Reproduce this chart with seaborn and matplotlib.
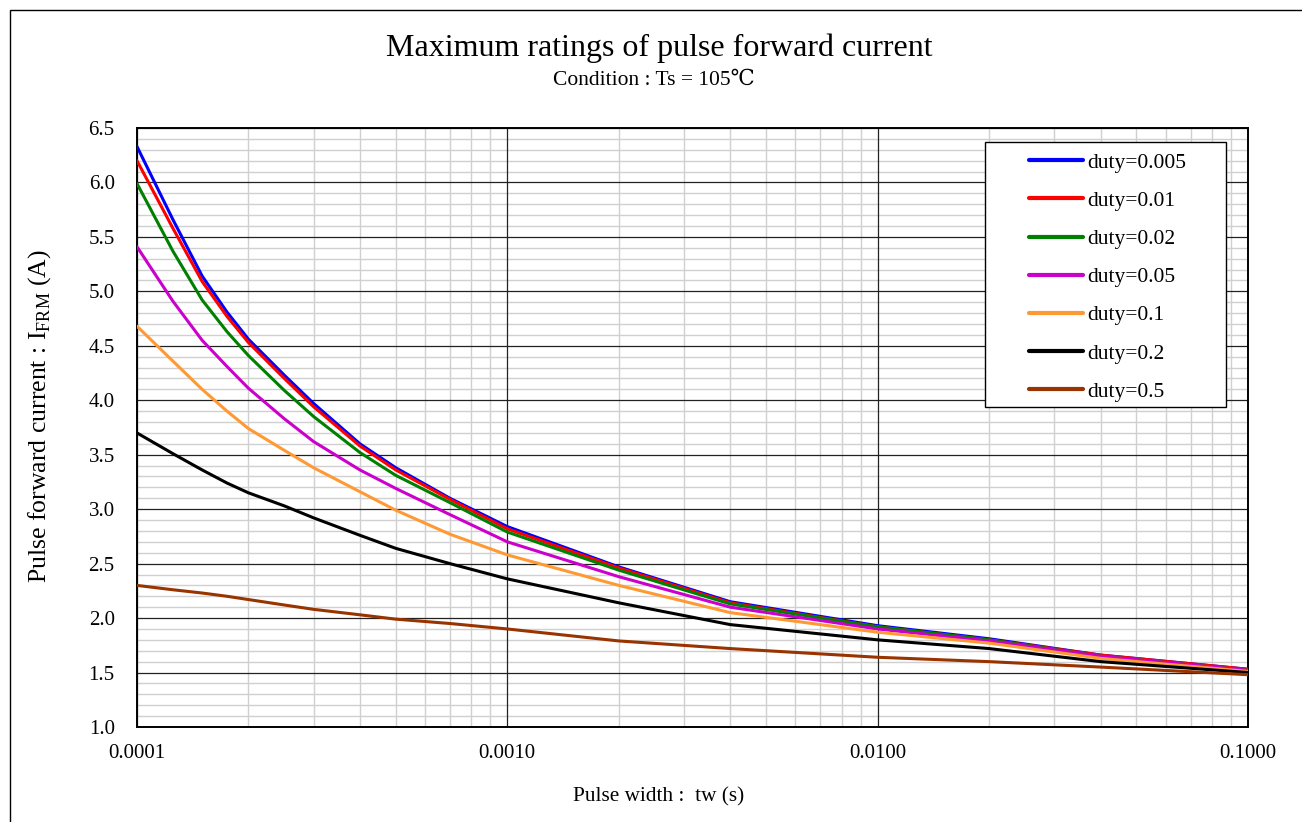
import numpy as np
import pandas as pd
import matplotlib
matplotlib.use("Agg")
import matplotlib.pyplot as plt
import matplotlib.ticker as mticker
from matplotlib.patches import Rectangle
import seaborn as sns

# pulse width (s)
tw = [0.0001, 0.000125, 0.00015, 0.000175, 0.0002, 0.00025, 0.0003, 0.0004, 0.0005,
      0.0007, 0.001, 0.002, 0.004, 0.01, 0.02, 0.04, 0.1]

# pulse forward current (A) per duty
duty_0_005 = [6.33, 5.66, 5.14, 4.81, 4.56, 4.23, 3.97, 3.60, 3.38, 3.10, 2.84, 2.47, 2.15, 1.93, 1.81, 1.66, 1.53]
duty_0_01 = [6.20, 5.58, 5.09, 4.77, 4.53, 4.20, 3.94, 3.58, 3.36, 3.09, 2.82, 2.46, 2.14, 1.92, 1.80, 1.66, 1.53]
duty_0_02 = [5.99, 5.37, 4.92, 4.63, 4.41, 4.09, 3.85, 3.52, 3.31, 3.06, 2.79, 2.44, 2.13, 1.92, 1.80, 1.65, 1.52]
duty_0_05 = [5.41, 4.91, 4.55, 4.31, 4.11, 3.83, 3.62, 3.36, 3.19, 2.95, 2.70, 2.38, 2.10, 1.90, 1.79, 1.65, 1.52]
duty_0_1 = [4.68, 4.36, 4.10, 3.90, 3.74, 3.54, 3.38, 3.16, 2.99, 2.77, 2.58, 2.30, 2.05, 1.87, 1.77, 1.63, 1.51]
duty_0_2 = [3.70, 3.51, 3.36, 3.24, 3.15, 3.03, 2.92, 2.76, 2.64, 2.50, 2.36, 2.14, 1.94, 1.80, 1.72, 1.60, 1.50]
duty_0_5 = [2.30, 2.26, 2.23, 2.20, 2.17, 2.12, 2.08, 2.03, 1.99, 1.95, 1.90, 1.79, 1.72, 1.64, 1.60, 1.55, 1.48]

series_names = ["duty=0.005", "duty=0.01", "duty=0.02", "duty=0.05",
                "duty=0.1", "duty=0.2", "duty=0.5"]
series_values = [duty_0_005, duty_0_01, duty_0_02, duty_0_05, duty_0_1, duty_0_2, duty_0_5]
colors = ["#0000FF", "#FF0000", "#008000", "#CC00CC", "#FF9933", "#000000", "#993300"]

rows = []
for name, vals in zip(series_names, series_values):
    for t, v in zip(tw, vals):
        rows.append({"tw": t, "I": v, "duty": name})
df = pd.DataFrame(rows)

sns.set_style("white")
plt.rcParams["font.family"] = ["Liberation Serif", "DejaVu Serif"]
plt.rcParams["mathtext.fontset"] = "custom"
plt.rcParams["mathtext.rm"] = "Liberation Serif"
plt.rcParams["text.color"] = "black"
plt.rcParams["axes.labelcolor"] = "black"
plt.rcParams["xtick.color"] = "black"
plt.rcParams["ytick.color"] = "black"

fig = plt.figure(figsize=(13.02, 8.22), dpi=100)
ax = fig.add_axes([0.1052, 0.1156, 0.8533, 0.7287])

sns.lineplot(data=df, x="tw", y="I", hue="duty", hue_order=series_names,
             palette=dict(zip(series_names, colors)), linewidth=2.2,
             estimator=None, sort=False, ax=ax, zorder=3)

ax.set_xscale("log")
ax.set_xlim(0.0001, 0.1)
ax.set_ylim(1.0, 6.5)
ax.xaxis.set_major_locator(mticker.FixedLocator([0.0001, 0.001, 0.01, 0.1]))
ax.xaxis.set_major_formatter(mticker.FuncFormatter(lambda v, p: "%.4f" % v))
ax.xaxis.set_minor_locator(mticker.LogLocator(base=10, subs=np.arange(2, 10)))
ax.xaxis.set_minor_formatter(mticker.NullFormatter())
ax.yaxis.set_major_locator(mticker.MultipleLocator(0.5))
ax.yaxis.set_minor_locator(mticker.MultipleLocator(0.1))
ax.yaxis.set_major_formatter(mticker.FormatStrFormatter("%.1f"))

# light minor grid under everything, darker major grid on top of it
ax.grid(which="minor", color="#d0d0d0", linewidth=1.0)
ax.set_axisbelow(True)
for v in ax.get_xticks():
    ax.axvline(v, color="#222222", linewidth=0.9, zorder=1)
for v in ax.get_yticks():
    ax.axhline(v, color="#222222", linewidth=0.9, zorder=1)
ax.set_xlim(0.0001, 0.1)
ax.set_ylim(1.0, 6.5)

ax.tick_params(which="both", length=0, labelsize=15)
ax.tick_params(axis="x", pad=12)
ax.tick_params(axis="y", pad=16)
for s in ax.spines.values():
    s.set_color("black")
    s.set_linewidth(1.4)

ax.set_xlabel("")
ax.set_ylabel("")
fig.text(659 / 1302, 1 - 797 / 822, "Pulse width :  tw (s)", ha="center", va="center",
         fontsize=15.3)
fig.text(40 / 1302, 1 - 416 / 822, r"Pulse forward current : I$_\mathregular{FRM}$ (A)",
         ha="center", va="center", rotation=90, fontsize=18.5)

fig.text(659.5 / 1302, 1 - 48 / 822, "Maximum ratings of pulse forward current",
         ha="center", va="center", fontsize=23)
fig.text(654 / 1302, 1 - 80 / 822, "Condition : Ts = 105\u2103", ha="center",
         va="center", fontsize=15.5)

# legend box
ax.add_patch(Rectangle((0.763, 0.534), 0.217, 0.443, transform=ax.transAxes,
                       facecolor="white", edgecolor="black", linewidth=1.0, zorder=5))
handles, labels = ax.get_legend_handles_labels()
leg = ax.legend(handles, labels, loc="upper left", bbox_to_anchor=(0.795, 0.973),
                frameon=False, fontsize=15.5, handlelength=2.5, handletextpad=0.22,
                labelspacing=0.84, borderaxespad=0)
leg.set_zorder(6)
for line in leg.get_lines():
    line.set_linewidth(3)

# outer border
fig.add_artist(Rectangle((9.5 / 1302, -0.01), 1.02, 1 - 10.5 / 822 + 0.01,
                         transform=fig.transFigure, fill=False,
                         edgecolor="black", linewidth=1.0))

fig.savefig("out.png", dpi=100)
